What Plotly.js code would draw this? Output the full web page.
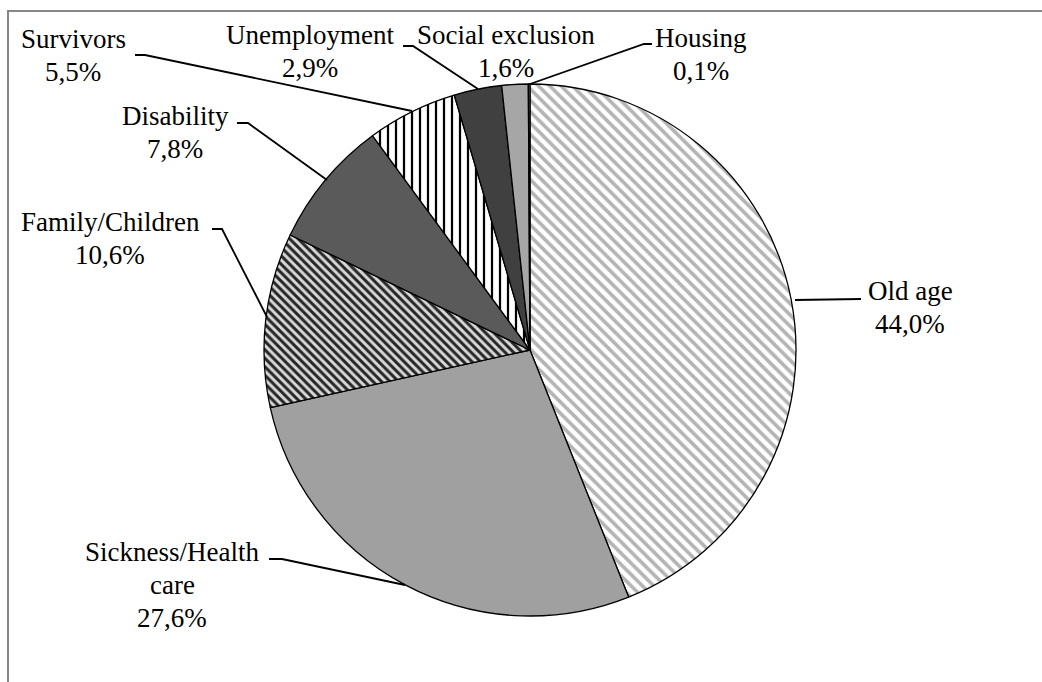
<!DOCTYPE html>
<html>
<head>
<meta charset="utf-8">
<script src="https://cdn.plot.ly/plotly-3.0.1.min.js"></script>
<style>html,body{margin:0;padding:0;background:#fff;}#chart{width:1042px;height:682px;}</style>
</head>
<body>
<div id="chart"></div>
<script>
// ---- data ----
const categories = ["Old age", "Sickness/Health care", "Family/Children", "Disability", "Survivors", "Unemployment", "Social exclusion", "Housing"];
const shares = [44.0, 27.6, 10.6, 7.8, 5.5, 2.9, 1.6, 0.1];
const labelLines = [["Old age"], ["Sickness/Health", "care"], ["Family/Children"], ["Disability"], ["Survivors"], ["Unemployment"], ["Social exclusion"], ["Housing"]];

// ---- styles ----
const W = 1042, H = 682;
const fillColors = ["#ffffff", "#a0a0a0", "#d8d8d8", "#5a5a5a", "#ffffff", "#404040", "#a6a6a6", "#808080"];
const patShapes = ["\\", "", "\\", "", "|", "", "", ""];
const patFg = ["#b4b4b4", "#a0a0a0", "#262626", "#5a5a5a", "#000000", "#404040", "#a6a6a6", "#808080"];
const patBg = ["#ffffff", "#a0a0a0", "#d8d8d8", "#5a5a5a", "#ffffff", "#404040", "#a6a6a6", "#808080"];
const patSize = [8, 8, 6, 8, 8, 8, 8, 8];
const patSolid = [0.45, 0.3, 0.5, 0.3, 0.28, 0.3, 0.3, 0.3];
const FONT = "Liberation Serif";

// pie geometry (pixels)
const cx = 530, cy = 350, R = 266;
const px = x => x / W;
const py = y => 1 - y / H;

// label placement: center x and center y of first line (pixels); line step
const labelPos = [[910, 291], [172, 552], [110, 222], [175, 116], [73, 39], [310, 35], [506, 35], [701, 38]];
const LINE_STEP = 33;
const leaders = [
  [[795, 300], [861, 299]],
  [[269, 559], [282, 559], [405, 585]],
  [[212, 229], [222, 229], [267, 317]],
  [[237, 123], [248, 123], [327, 180]],
  [[135, 55], [145, 55], [412, 111]],
  [[403, 46], [413, 46], [478, 89]],
  null,
  [[530, 84], [644, 44], [652, 44]]
];

const trace = {
  type: "pie",
  labels: categories,
  values: shares,
  sort: false,
  direction: "clockwise",
  rotation: 0,
  textinfo: "none",
  hoverinfo: "label+percent",
  domain: {x: [px(cx - R), px(cx + R)], y: [py(cy + R), py(cy - R)]},
  marker: {
    colors: fillColors,
    line: {color: "#000000", width: 1.3},
    pattern: {shape: patShapes, fgcolor: patFg, bgcolor: patBg, size: patSize, solidity: patSolid, fillmode: "replace"}
  }
};

const fmt = v => v.toFixed(1).replace(".", ",") + "%";
const annotations = [];
categories.forEach((c, i) => {
  const lines = labelLines[i].concat([fmt(shares[i])]);
  lines.forEach((t, k) => annotations.push({
    xref: "paper", yref: "paper",
    x: px(labelPos[i][0]), y: py(labelPos[i][1] + k * LINE_STEP),
    xanchor: "center", yanchor: "middle",
    text: t, showarrow: false,
    font: {family: FONT, size: 27, color: "#000000"}
  }));
});

const shapes = [];
leaders.forEach(pts => {
  if (!pts) return;
  const d = pts.map((p, k) => (k ? "L" : "M") + px(p[0]).toFixed(5) + "," + py(p[1]).toFixed(5)).join(" ");
  shapes.push({type: "path", xref: "paper", yref: "paper", path: d, line: {color: "#000", width: 1.8}});
});
// outer frame (top and left visible)
shapes.push({type: "path", xref: "paper", yref: "paper",
  path: "M" + px(8) + "," + py(700) + " L" + px(8) + "," + py(11) + " L" + px(1060) + "," + py(11),
  line: {color: "#878787", width: 2}});

const layout = {
  width: W, height: H,
  margin: {l: 0, r: 0, t: 0, b: 0},
  paper_bgcolor: "#ffffff",
  font: {family: FONT},
  showlegend: false,
  annotations: annotations,
  shapes: shapes
};

Plotly.newPlot("chart", [trace], layout, {displayModeBar: false, staticPlot: true});
</script>
</body>
</html>
